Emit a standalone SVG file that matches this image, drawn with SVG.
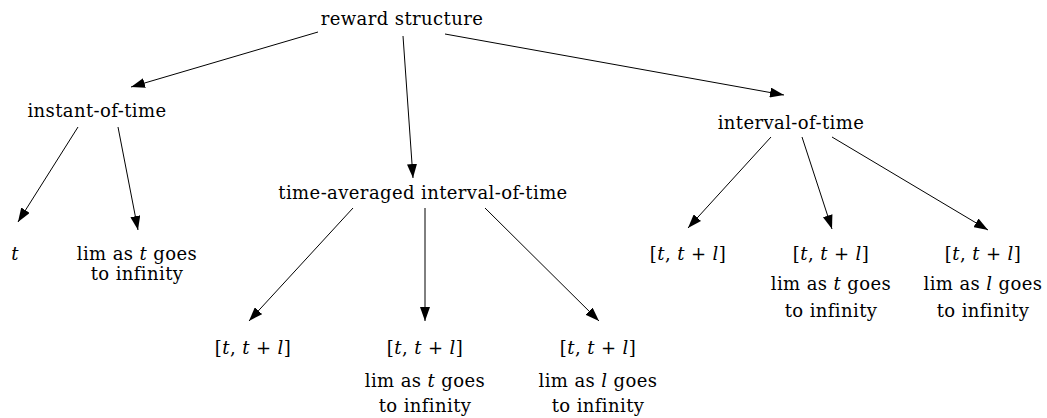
<svg xmlns="http://www.w3.org/2000/svg" width="1047" height="418" viewBox="0 0 1047 418">
<style>
text{font-family:"DejaVu Serif","Liberation Serif",serif;font-size:18px;letter-spacing:0.4px;fill:#000;text-anchor:middle}
.i{font-style:italic}
.e{stroke:#000;stroke-width:1;fill:none;marker-end:url(#a)}
</style>
<defs>
<marker id="a" viewBox="0 0 14 10" refX="14" refY="5" markerWidth="14" markerHeight="10" markerUnits="userSpaceOnUse" orient="auto">
<path d="M0,0 L14,5 L0,10 z" fill="#000"/>
</marker>
</defs>
<rect width="1047" height="418" fill="#fff"/>
<g id="connectors">
<line class="e" x1="318" y1="32" x2="131" y2="87"/>
<line class="e" x1="403" y1="36" x2="413" y2="178"/>
<line class="e" x1="445" y1="34" x2="784" y2="95"/>
<line class="e" x1="78" y1="127" x2="18" y2="222"/>
<line class="e" x1="118" y1="127" x2="138" y2="230"/>
<line class="e" x1="353" y1="208" x2="249" y2="321"/>
<line class="e" x1="425" y1="208" x2="425" y2="321"/>
<line class="e" x1="485" y1="208" x2="599" y2="321"/>
<line class="e" x1="771" y1="137" x2="688" y2="228"/>
<line class="e" x1="802" y1="137" x2="832" y2="229"/>
<line class="e" x1="832" y1="137" x2="988" y2="230"/>
</g>
<g id="reward"><text x="402" y="25">reward structure</text></g>
<g id="instant"><text x="97" y="117">instant-of-time</text></g>
<g id="interval"><text x="791" y="129">interval-of-time</text></g>
<g id="timeavg"><text x="423" y="199">time-averaged interval-of-time</text></g>
<g id="inst-t"><text x="15" y="260" class="i">t</text></g>
<g id="inst-lim"><text x="137" y="260">lim as <tspan class="i">t</tspan> goes</text><text x="137" y="280">to infinity</text></g>
<g id="int-1"><text x="688" y="260">[<tspan class="i">t</tspan>, <tspan class="i">t</tspan> + <tspan class="i">l</tspan>]</text></g>
<g id="int-2"><text x="831" y="260">[<tspan class="i">t</tspan>, <tspan class="i">t</tspan> + <tspan class="i">l</tspan>]</text><text x="831" y="290">lim as <tspan class="i">t</tspan> goes</text><text x="831" y="317">to infinity</text></g>
<g id="int-3"><text x="983" y="260">[<tspan class="i">t</tspan>, <tspan class="i">t</tspan> + <tspan class="i">l</tspan>]</text><text x="983" y="290">lim as <tspan class="i">l</tspan> goes</text><text x="983" y="317">to infinity</text></g>
<g id="avg-1"><text x="253" y="354">[<tspan class="i">t</tspan>, <tspan class="i">t</tspan> + <tspan class="i">l</tspan>]</text></g>
<g id="avg-2"><text x="425" y="354">[<tspan class="i">t</tspan>, <tspan class="i">t</tspan> + <tspan class="i">l</tspan>]</text><text x="425" y="387">lim as <tspan class="i">t</tspan> goes</text><text x="425" y="412">to infinity</text></g>
<g id="avg-3"><text x="598" y="354">[<tspan class="i">t</tspan>, <tspan class="i">t</tspan> + <tspan class="i">l</tspan>]</text><text x="598" y="387">lim as <tspan class="i">l</tspan> goes</text><text x="598" y="412">to infinity</text></g>
</svg>
